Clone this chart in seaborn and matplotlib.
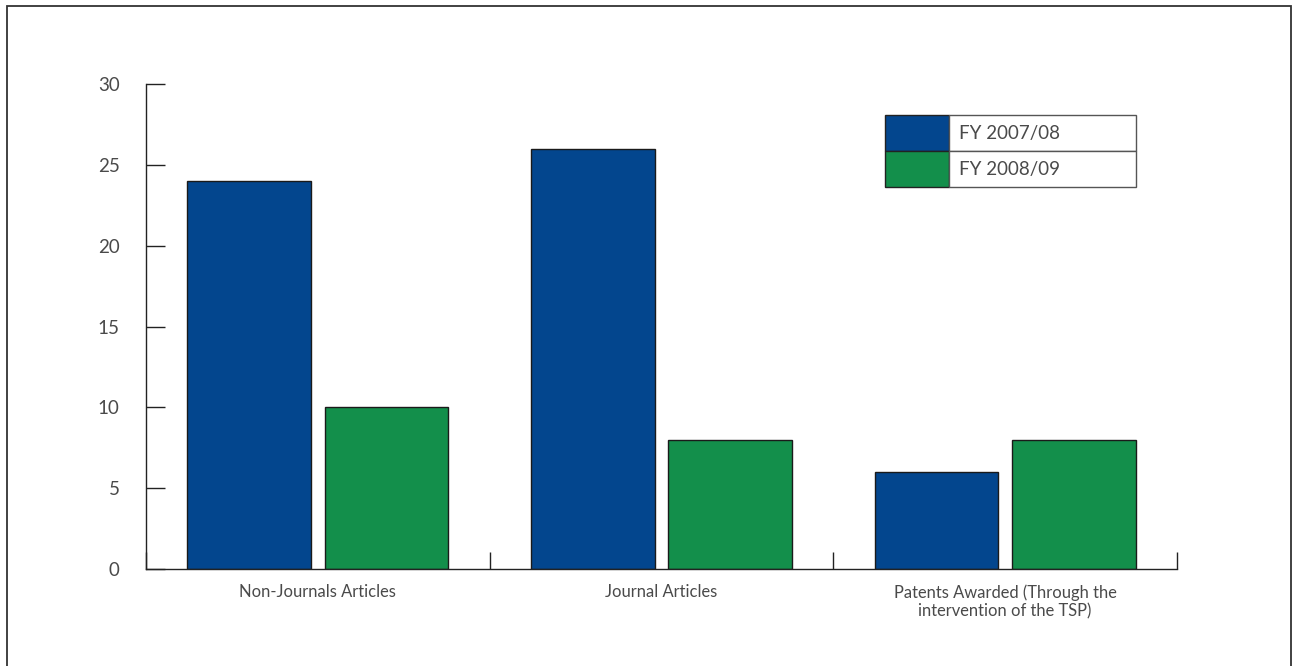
import matplotlib
matplotlib.use("Agg")
import matplotlib.pyplot as plt
from matplotlib.patches import Rectangle
import seaborn as sns
import pandas as pd

categories = ["Non-Journals Articles", "Journal Articles",
              "Patents Awarded (Through the\nintervention of the TSP)"]
series_names = ["FY 2007/08", "FY 2008/09"]
fy2007_08 = [24, 26, 6]
fy2008_09 = [10, 8, 8]
y_ticks = [0, 5, 10, 15, 20, 25, 30]
colors = ["#03468E", "#138F4B"]

df = pd.DataFrame({
    "category": categories * 2,
    "series": [series_names[0]] * 3 + [series_names[1]] * 3,
    "value": fy2007_08 + fy2008_09,
})

sns.set_theme(style="white")
plt.rcParams["font.family"] = ["Lato", "DejaVu Sans"]
plt.rcParams["font.weight"] = "normal"
txt = "#4a4a4a"

W, H = 1292, 666
fig = plt.figure(figsize=(W / 100, H / 100), dpi=100)
ax = fig.add_axes([146 / W, 1 - 569 / H, (1177 - 146) / W, (569 - 84) / H])

sns.barplot(data=df, x="category", y="value", hue="series", order=categories,
            hue_order=series_names, palette=colors, width=0.8, gap=0.1,
            edgecolor="#1a1a1a", linewidth=1.0, saturation=1, ax=ax, legend=False)

ax.set_xlim(-0.5, 2.5)
ax.set_ylim(0, 30)
ax.set_yticks(y_ticks)
ax.set_yticklabels([str(v) for v in y_ticks], fontsize=13.5, color=txt)
ax.set_xlabel("")
ax.set_ylabel("")
for s in ["top", "right"]:
    ax.spines[s].set_visible(False)
for s in ["left", "bottom"]:
    ax.spines[s].set_color("#222222")
    ax.spines[s].set_linewidth(1.0)

ax.tick_params(axis="y", direction="in", length=14, width=1, color="#222222", pad=19, left=True)
ax.set_xticks([0, 1, 2])
ax.set_xticklabels(categories, fontsize=11.9, color=txt, linespacing=1.2)
ax.tick_params(axis="x", which="major", length=0, pad=11)
ax.set_xticks([-0.5, 0.5, 1.5, 2.5], minor=True)
ax.tick_params(axis="x", which="minor", direction="in", length=12, width=1,
               color="#222222", bottom=True)

# legend drawn as a table-like box
lx0, lx1, lx2 = 885 / W, 949 / W, 1136 / W
rows = [(115, 151), (151, 187)]
for (t, b), name, c in zip(rows, series_names, colors):
    y0 = 1 - b / H
    h = (b - t) / H
    fig.patches.append(Rectangle((lx0, y0), lx1 - lx0, h, transform=fig.transFigure,
                                 facecolor=c, edgecolor="#222222", linewidth=1.0))
    fig.patches.append(Rectangle((lx1, y0), lx2 - lx1, h, transform=fig.transFigure,
                                 facecolor="white", edgecolor="#555555", linewidth=1.0))
    fig.text(lx1 + 10 / W, y0 + h / 2, name, fontsize=13.5, color=txt,
             va="center", ha="left")

# outer frame
fig.patches.append(Rectangle((7 / W, -0.01), (1291 - 7) / W, 1 - 6 / H + 0.01,
                             transform=fig.transFigure, facecolor="none",
                             edgecolor="#333333", linewidth=1.3))

fig.savefig("out.png", dpi=100)
